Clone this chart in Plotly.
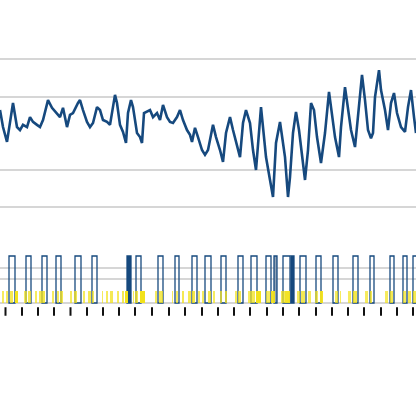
import plotly.graph_objects as go

# ---------------- data ----------------
# continuous signal (top panel)
t = [0, 3, 7, 10, 13, 17, 20, 23, 27, 30, 33, 37, 40, 43, 48, 52, 57, 60, 63, 67,
     70, 73, 78, 80, 83, 87, 90, 93, 97, 100, 103, 107, 110, 113, 115, 117, 120, 123,
     126, 128, 131, 133, 137, 140, 142, 144, 147, 150, 153, 157, 160, 163, 167, 170,
     173, 177, 180, 183, 187, 190, 192, 195, 198, 202, 205, 208, 213, 216, 220, 223,
     226, 230, 233, 236, 240, 243, 246, 250, 253, 256, 259, 261, 263, 266, 270, 273,
     276, 280, 283, 285, 288, 290, 293, 296, 299, 302, 305, 308, 311, 314, 317, 321,
     325, 329, 332, 335, 339, 341, 345, 348, 351, 355, 358, 362, 365, 368, 371, 373,
     375, 379, 381, 385, 388, 391, 394, 397, 401, 405, 408, 411, 414, 416]
signal = [0.62, 0.16, -0.24, 0.27, 0.81, 0.16, 0.08, 0.22, 0.16, 0.43, 0.30, 0.22, 0.16,
          0.35, 0.89, 0.68, 0.54, 0.43, 0.68, 0.16, 0.49, 0.54, 0.81, 0.89, 0.62, 0.30,
          0.16, 0.27, 0.70, 0.62, 0.35, 0.30, 0.22, 0.70, 1.03, 0.81, 0.22, 0.03, -0.27,
          0.54, 0.89, 0.70, 0.00, -0.11, -0.27, 0.54, 0.57, 0.62, 0.43, 0.54, 0.35, 0.76,
          0.43, 0.30, 0.27, 0.43, 0.62, 0.35, 0.08, -0.05, -0.24, 0.14, -0.11, -0.46,
          -0.59, -0.46, 0.22, -0.11, -0.46, -0.78, 0.00, 0.43, 0.08, -0.27, -0.65, 0.27,
          0.62, 0.27, -0.46, -1.00, 0.00, 0.70, 0.16, -0.65, -1.27, -1.73, -0.27, 0.30,
          -0.27, -0.65, -1.73, -1.19, 0.00, 0.57, 0.08, -0.65, -1.27, -0.46, 0.81, 0.62,
          -0.11, -0.81, 0.00, 1.11, 0.43, -0.11, -0.65, 0.16, 1.24, 0.62, 0.08, -0.38,
          0.43, 1.57, 0.89, 0.08, -0.14, 0.00, 0.97, 1.70, 1.16, 0.62, 0.08, 0.81, 1.08,
          0.54, 0.16, 0.03, 0.70, 1.16, 0.43, 0.00]

# detected peaks (bottom panel, outlined bars)
peak_start = [9, 26, 42, 56, 75, 92, 127, 136, 158, 175, 192, 205, 221, 238, 251, 266,
              274, 283, 291, 300, 316, 333, 353, 370, 390, 403, 413]
peak_end = [15, 31, 47, 61, 81, 97, 131, 141, 163, 179, 197, 211, 226, 243, 257, 271,
            277, 290, 294, 306, 321, 338, 358, 374, 394, 407, 418]
peak_kind = ["open", "open", "open", "open", "open", "open", "solid", "open", "open",
             "open", "open", "open", "open", "open", "open", "open", "faint", "open",
             "solid", "open", "open", "open", "open", "open", "open", "open", "open"]

# events (bottom panel, yellow bars)
event_start = [2, 6, 10, 15, 24, 28, 35, 39, 43, 52, 57, 60, 70, 74, 83, 88, 92, 102, 106,
               110, 117, 122, 125, 133, 135, 140, 155, 159, 172, 176, 182, 188, 192, 198,
               202, 208, 213, 220, 225, 235, 238, 248, 251, 256, 266, 271, 281, 285, 297,
               301, 308, 315, 320, 335, 340, 348, 353, 365, 370, 385, 390, 403, 408, 413]
event_end = [4, 8, 13, 18, 27, 31, 37, 43, 45, 54, 59, 63, 72, 77, 85, 91, 94, 103, 108,
             113, 119, 124, 128, 134, 138, 145, 157, 163, 173, 178, 184, 191, 195, 200,
             204, 211, 215, 222, 227, 237, 241, 251, 255, 261, 270, 275, 285, 290, 300,
             305, 311, 318, 323, 338, 341, 351, 357, 368, 372, 388, 393, 406, 411, 416]
event_strength = [0.4, 0.4, 0.5, 1.0, 0.4, 0.5, 0.4, 0.5, 0.6, 0.4, 0.4, 0.5, 0.4, 0.5,
                  0.4, 0.5, 0.4, 0.4, 0.4, 0.5, 0.4, 0.5, 1.0, 0.4, 0.5, 1.0, 0.4, 0.5,
                  0.4, 0.4, 0.5, 0.5, 0.6, 0.4, 0.4, 0.5, 0.4, 0.4, 0.5, 0.4, 0.5, 0.4,
                  0.5, 1.0, 0.4, 0.9, 0.5, 0.9, 0.4, 0.5, 0.4, 0.4, 0.9, 0.4, 0.4, 0.4,
                  0.6, 0.4, 0.5, 0.4, 0.5, 0.4, 0.5, 0.5]

# beat markers (bottom row of small ticks)
beat_t = [5.5, 22, 38, 54, 70.5, 87, 103, 119, 135, 152, 169, 185, 202, 218, 234, 250,
          267, 283, 299, 316, 332, 348, 364, 381, 397, 413]

# ---------------- figure ----------------
NAVY = "#16497e"
kind_color = {"open": "rgba(255,255,255,0)", "solid": NAVY, "faint": "#8fa3b8"}

fig = go.Figure()

fig.add_trace(go.Scatter(x=t, y=signal, mode="lines",
                         line=dict(color=NAVY, width=2.6),
                         xaxis="x", yaxis="y", hoverinfo="skip"))

pk_center = [(a + b) / 2 for a, b in zip(peak_start, peak_end)]
pk_width = [b - a for a, b in zip(peak_start, peak_end)]
fig.add_trace(go.Bar(x=pk_center, y=[1] * len(pk_center), width=pk_width, base=0,
                     marker=dict(color=[kind_color[k] for k in peak_kind],
                                 line=dict(color=NAVY, width=1.3)),
                     xaxis="x2", yaxis="y2"))

ev_center = [(a + b) / 2 for a, b in zip(event_start, event_end)]
ev_width = [b - a for a, b in zip(event_start, event_end)]
fig.add_trace(go.Bar(x=ev_center, y=[0.25] * len(ev_center), width=ev_width, base=0,
                     marker=dict(color="#f2e21a",
                                 opacity=[0.5 + 0.5 * s for s in event_strength],
                                 line=dict(width=0)),
                     xaxis="x2", yaxis="y2"))

fig.add_trace(go.Scatter(x=beat_t, y=[-0.18] * len(beat_t), mode="markers",
                         marker=dict(symbol="line-ns", size=6,
                                     line=dict(color="#111111", width=2)),
                         xaxis="x2", yaxis="y2"))

ax_common = dict(range=[0, 416], showticklabels=False, showgrid=False,
                 zeroline=False, showline=False, ticks="")
grid = dict(showticklabels=False, showgrid=True, gridcolor="#d6d6d6", gridwidth=1.3,
            zeroline=False, showline=False, ticks="")

fig.update_layout(
    width=416, height=416,
    margin=dict(l=0, r=0, t=0, b=0),
    paper_bgcolor="white", plot_bgcolor="white",
    showlegend=False, barmode="overlay", bargap=0,
    xaxis=dict(domain=[0, 1], anchor="y", **ax_common),
    xaxis2=dict(domain=[0, 1], anchor="y2", **ax_common),
    yaxis=dict(domain=[0.45793, 0.90264], range=[-2.5, 2.5],
               tickvals=[-2, -1, 0.97, 2], anchor="x", **grid),
    yaxis2=dict(domain=[0.23774, 0.40721], range=[-0.3, 1.2],
                tickvals=[0, 0.51, 0.745], anchor="x2", **grid),
)

fig.write_html("out.html",
               config={"displayModeBar": False, "staticPlot": True},
               post_script="document.body.style.margin='0';document.body.style.overflow='hidden';")
